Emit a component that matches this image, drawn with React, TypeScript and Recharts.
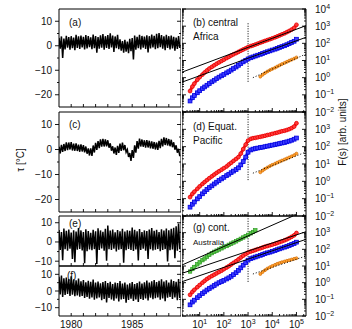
import React from "react";
import { ComposedChart, Line, Scatter, XAxis, YAxis } from "recharts";

const FONT = "'Liberation Sans', Arial, Helvetica, sans-serif";
const AX_LINE = { stroke: "#000", strokeWidth: 1 };
const PAD = 8; // room above / below each plot so edge labels are not clipped

// ---- left column: daily temperature records, read as upper / lower envelope ----
const YEARS = [
  1979.0, 1979.2, 1979.4, 1979.6, 1979.8, 1980.0, 1980.2, 1980.4, 1980.6, 1980.8,
  1981.0, 1981.2, 1981.4, 1981.6, 1981.8, 1982.0, 1982.2, 1982.4, 1982.6, 1982.8,
  1983.0, 1983.2, 1983.4, 1983.6, 1983.8, 1984.0, 1984.2, 1984.4, 1984.6, 1984.8,
  1985.0, 1985.2, 1985.4, 1985.6, 1985.8, 1986.0, 1986.2, 1986.4, 1986.6, 1986.8,
  1987.0, 1987.2, 1987.4, 1987.6, 1987.8, 1988.0, 1988.2, 1988.4, 1988.6, 1988.8,
];
const YEAR_DOMAIN = [1979, 1989];
const YEAR_TICKS = [1980, 1981, 1982, 1983, 1984, 1985, 1986, 1987, 1988];
const YEAR_LABELS = [1980, 1985];

const HI_A = [3.2, 3.8, 2.9, 4.1, 3.5, 3.9, 3.3, 4.5, 3.8, 4.2, 3.6, 4.4, 3.9, 3.4, 4.6, 4.0, 3.5, 4.3, 4.8, 3.9, 4.4, 5.1, 4.2, 3.8, 4.5, 2.6, 1.9, 2.4, 1.7, 2.8, 3.1, 4.2, 3.6, 4.5, 4.0, 3.7, 4.3, 3.9, 4.6, 4.1, 4.9, 5.2, 4.4, 3.8, 4.5, 3.9, 4.2, 3.6, 3.3, 3.9];
const LO_A = [-1.2, -5.0, -1.5, -0.8, -1.6, -1.0, -1.8, -0.9, -1.3, -0.7, -1.5, -1.1, -0.6, -1.4, -1.0, -2.8, -1.2, -0.8, -1.6, -0.9, -1.3, -0.7, -2.5, -1.0, -1.4, -2.0, -2.8, -2.4, -3.0, -2.2, -5.6, -1.6, -1.0, -1.5, -0.8, -1.3, -2.7, -1.1, -0.7, -1.4, -1.0, -0.6, -1.2, -1.8, -0.9, -1.5, -1.1, -2.0, -1.3, -0.9];

const HI_C = [1.1, 1.9, 2.2, 2.9, 2.8, 3.0, 2.3, 2.5, 1.9, 2.1, 1.7, 1.2, 0.4, 0.5, 1.6, 2.7, 3.4, 4.1, 4.3, 4.0, 3.7, 2.5, 1.3, 0.8, 1.5, 2.4, 2.8, 1.8, 0.0, -1.4, -0.2, 1.7, 3.4, 4.4, 4.0, 3.7, 3.8, 3.5, 3.3, 3.0, 2.8, 3.5, 4.3, 4.9, 4.6, 4.2, 3.9, 2.9, 1.7, 0.3];
const LO_C = [-1.6, -1.0, -0.6, -0.3, 0.0, -0.4, -0.5, -0.6, -0.9, -0.8, -1.1, -1.7, -2.4, -2.6, -1.2, -0.2, 0.5, 1.1, 1.2, 1.3, 0.7, -0.5, -1.6, -2.2, -1.4, -0.6, -0.3, -1.1, -3.0, -4.6, -3.4, -1.3, 0.3, 1.2, 1.1, 0.7, 0.8, 0.4, 0.3, 0.0, -0.2, 0.5, 1.2, 1.8, 1.6, 1.3, 0.9, -0.1, -1.3, -2.7];

const HI_E = [6.2, 5.1, 7.0, 5.8, 6.5, 4.9, 6.1, 5.4, 7.3, 6.0, 5.2, 6.6, 5.7, 4.8, 6.3, 5.5, 7.1, 6.0, 5.3, 6.8, 8.6, 5.9, 6.4, 5.0, 6.2, 5.6, 6.9, 5.4, 6.1, 5.8, 7.5, 6.3, 5.5, 6.7, 5.1, 6.0, 5.7, 6.4, 7.2, 5.8, 6.3, 5.2, 6.6, 5.9, 7.0, 6.1, 6.8, 7.4, 8.2, 9.6];
const LO_E = [-4.2, -9.5, -3.8, -4.6, -3.5, -8.8, -10.5, -4.0, -3.6, -4.4, -11.0, -4.8, -3.9, -4.3, -3.7, -11.5, -4.1, -3.4, -4.6, -9.8, -3.8, -4.2, -3.5, -4.9, -4.0, -3.7, -10.8, -4.3, -3.6, -4.1, -4.7, -3.9, -9.6, -4.2, -3.5, -4.5, -8.9, -3.8, -4.4, -4.0, -3.6, -4.8, -4.1, -3.7, -10.2, -4.3, -3.9, -8.5, -4.5, -3.8];

const HI_F = [8.5, 9.2, 7.6, 8.1, 7.2, 8.8, 7.0, 6.4, 7.5, 5.8, 6.6, 5.2, 6.1, 5.5, 6.8, 5.0, 5.7, 4.6, 5.3, 6.0, 4.8, 5.5, 4.2, 5.1, 4.7, 5.9, 4.4, 5.0, 3.9, 4.6, 5.3, 4.1, 4.8, 5.6, 4.5, 5.2, 6.3, 5.0, 5.8, 6.5, 5.4, 6.1, 7.0, 5.7, 6.4, 5.1, 6.8, 6.0, 5.5, 7.2];
const LO_F = [-2.0, -3.5, -2.4, -1.8, -2.9, -2.2, -3.1, -2.6, -3.4, -3.0, -4.1, -3.5, -4.6, -3.8, -5.2, -4.4, -3.9, -5.5, -4.7, -6.8, -4.2, -5.0, -5.8, -4.5, -6.2, -5.1, -4.8, -7.0, -5.4, -4.6, -5.9, -5.0, -6.5, -4.8, -5.3, -4.4, -5.6, -4.0, -4.9, -4.3, -3.8, -5.2, -4.5, -6.1, -4.0, -3.6, -4.7, -3.9, -5.5, -4.2];

// ---- right column: fluctuation functions F(s); values are log10 F ----
const S = [4, 5, 6, 8, 10, 13, 16, 20, 25, 32, 40, 50, 63, 80, 100, 130, 160, 200, 250, 320, 400, 500, 630, 800, 1000, 1300, 1600, 2000, 2500, 3200, 4000, 5000, 6300, 8000, 10000, 13000, 16000, 20000, 25000, 32000, 40000, 50000, 63000, 80000, 100000];
const S_GREEN = [4, 5, 6, 8, 10, 13, 16, 20, 25, 32, 40, 50, 63, 80, 100, 130, 160, 200, 250, 320, 400, 500, 630, 800, 1000, 1300, 1600, 2000];
const S_ORANGE = [3200, 4000, 5000, 6300, 8000, 10000, 13000, 16000, 20000, 25000, 32000, 40000, 50000, 63000, 80000, 100000];

const RED_B = [-0.78, -0.52, -0.35, -0.12, 0.03, 0.18, 0.30, 0.42, 0.53, 0.63, 0.72, 0.81, 0.89, 0.97, 1.05, 1.14, 1.21, 1.29, 1.36, 1.43, 1.50, 1.57, 1.64, 1.71, 1.78, 1.84, 1.88, 1.93, 1.98, 2.04, 2.09, 2.14, 2.19, 2.24, 2.29, 2.35, 2.40, 2.46, 2.52, 2.58, 2.65, 2.72, 2.80, 2.90, 3.08];
const BLUE_B = [-1.36, -1.17, -1.04, -0.88, -0.76, -0.64, -0.54, -0.44, -0.34, -0.24, -0.15, -0.06, 0.03, 0.11, 0.19, 0.28, 0.35, 0.44, 0.53, 0.62, 0.72, 0.82, 0.92, 1.01, 1.09, 1.16, 1.21, 1.26, 1.31, 1.36, 1.41, 1.46, 1.51, 1.56, 1.61, 1.66, 1.71, 1.76, 1.81, 1.86, 1.92, 1.98, 2.05, 2.12, 2.24];
const ORANGE_B = [0.06, 0.17, 0.27, 0.36, 0.44, 0.51, 0.58, 0.65, 0.72, 0.79, 0.86, 0.92, 0.99, 1.05, 1.11, 1.18];

const RED_D = [-0.91, -0.72, -0.60, -0.43, -0.29, -0.15, -0.04, 0.07, 0.18, 0.29, 0.39, 0.49, 0.58, 0.67, 0.76, 0.86, 0.97, 1.07, 1.18, 1.29, 1.40, 1.60, 1.86, 2.12, 2.35, 2.45, 2.49, 2.51, 2.54, 2.57, 2.60, 2.63, 2.67, 2.70, 2.74, 2.78, 2.81, 2.85, 2.89, 2.92, 2.96, 3.01, 3.07, 3.16, 3.35];
const BLUE_D = [-1.49, -1.32, -1.19, -1.01, -0.88, -0.72, -0.60, -0.47, -0.36, -0.26, -0.15, -0.05, 0.05, 0.14, 0.23, 0.33, 0.41, 0.50, 0.59, 0.68, 0.78, 0.95, 1.14, 1.40, 1.68, 1.81, 1.86, 1.89, 1.92, 1.95, 1.97, 2.00, 2.03, 2.06, 2.09, 2.12, 2.15, 2.18, 2.21, 2.24, 2.28, 2.32, 2.37, 2.43, 2.50];
const ORANGE_D = [0.52, 0.62, 0.72, 0.80, 0.88, 0.95, 1.02, 1.08, 1.14, 1.20, 1.26, 1.32, 1.38, 1.44, 1.51, 1.60];

const GREEN_G = [0.67, 0.82, 0.94, 1.10, 1.22, 1.35, 1.45, 1.56, 1.67, 1.77, 1.85, 1.92, 1.99, 2.06, 2.13, 2.20, 2.27, 2.34, 2.41, 2.48, 2.56, 2.63, 2.71, 2.79, 2.87, 2.96, 3.04, 3.14];
const RED_G = [-0.73, -0.55, -0.43, -0.27, -0.14, 0.00, 0.11, 0.22, 0.31, 0.40, 0.48, 0.56, 0.64, 0.72, 0.81, 0.91, 0.99, 1.09, 1.19, 1.29, 1.40, 1.51, 1.62, 1.72, 1.81, 1.87, 1.91, 1.96, 2.01, 2.06, 2.11, 2.16, 2.20, 2.24, 2.28, 2.33, 2.38, 2.43, 2.48, 2.54, 2.60, 2.67, 2.75, 2.84, 2.98];
const BLUE_G = [-1.33, -1.16, -1.05, -0.90, -0.78, -0.65, -0.55, -0.44, -0.35, -0.26, -0.17, -0.08, 0.00, 0.07, 0.14, 0.22, 0.29, 0.38, 0.48, 0.60, 0.74, 0.89, 1.05, 1.21, 1.35, 1.44, 1.49, 1.54, 1.59, 1.64, 1.69, 1.74, 1.79, 1.83, 1.88, 1.93, 1.98, 2.03, 2.08, 2.13, 2.18, 2.23, 2.29, 2.35, 2.43];
const ORANGE_G = [0.52, 0.64, 0.75, 0.85, 0.93, 1.00, 1.07, 1.13, 1.18, 1.23, 1.27, 1.31, 1.35, 1.39, 1.43, 1.47];

// straight-line fits (end points: s, log10 F)
const S_DOMAIN = [1.86, 248000];
const F_DOMAIN = [0.01, 10000];
const FIT_B = [{ s: [1.86, 248000], e: [0.32, 3.03] }, { s: [1.86, 248000], e: [-0.26, 2.35] }];
const FIT_G = [{ s: [1.86, 72400], e: [1.06, 4.0] }, { s: [1.86, 248000], e: [0.56, 3.06] }, { s: [1.86, 248000], e: [0.06, 2.6] }];
const DOT_FIT_B = { s: [1585, 248000], e: [0.0, 1.38] };
const DOT_FIT_D = { s: [1585, 248000], e: [0.47, 1.69] };
const DOT_FIT_G = { s: [1585, 248000], e: [0.52, 1.6] };
const VLINE_B = { s: [1000, 1000], e: [-0.24, 3.24] };
const VLINE_D = { s: [1000, 1000], e: [0.07, 4.0] };
const VLINE_G = { s: [1000, 1000], e: [0.05, 4.0] };

const S_TICKS = [2, 3, 4, 5, 6, 7, 8, 9, 10, 20, 30, 40, 50, 60, 70, 80, 90, 100, 200, 300, 400, 500, 600, 700, 800, 900, 1000, 2000, 3000, 4000, 5000, 6000, 7000, 8000, 9000, 10000, 20000, 30000, 40000, 50000, 60000, 70000, 80000, 90000, 100000, 200000];
const F_TICKS = [0.01, 0.1, 1, 10, 100, 1000]
  .flatMap((d) => [1, 2, 3, 4, 5, 6, 7, 8, 9].map((m) => +(d * m).toPrecision(3)))
  .concat([10000]);

type Pt = { s: number; F: number };
const toPts = (s: number[], e: number[]): Pt[] => s.map((v, i) => ({ s: v, F: Math.pow(10, e[i]) }));

function zigzag(hi: number[], lo: number[]) {
  const rows: { t: number; v: number }[] = [];
  YEARS.forEach((t, i) => {
    rows.push({ t, v: hi[i] });
    rows.push({ t: t + 0.1, v: lo[i] });
  });
  return rows;
}

const isPow10 = (v: number) => Math.abs(Math.log10(v) - Math.round(Math.log10(v))) < 1e-6;
const isTen = (v: number) => v % 10 === 0;
const always = () => true;

type Side = "left" | "right" | "top" | "bottom";
type LabelFn = (v: number, x: number, y: number) => React.ReactNode;

function tickFn(side: Side, isMajor: (v: number) => boolean, label?: LabelFn, outward = false, lens = [4, 2]) {
  return (p: any) => {
    const x = Number(p.x);
    const y = Number(p.y);
    const v = Number(p.payload?.value);
    const len = isMajor(v) ? lens[0] : lens[1];
    const d = outward ? -len : len;
    const x2 = side === "left" ? x + d : side === "right" ? x - d : x;
    const y2 = side === "top" ? y + d : side === "bottom" ? y - d : y;
    return (
      <g>
        <line x1={x} y1={y} x2={x2} y2={y2} stroke="#000" strokeWidth={0.9} />
        {label ? label(v, x, y) : null}
      </g>
    );
  };
}

const txt = { fontFamily: FONT, fontSize: 10, fill: "#111" };

const tempLabel: LabelFn = (v, x, y) =>
  v % 10 === 0 ? (
    <text x={x - 7} y={y + 3.5} textAnchor="end" {...txt}>
      {v < 0 ? `\u2212${-v}` : String(v)}
    </text>
  ) : null;

const yearLabel: LabelFn = (v, x, y) =>
  YEAR_LABELS.includes(v) ? (
    <text x={x} y={y + 12} textAnchor="middle" {...txt}>
      {String(v)}
    </text>
  ) : null;

const expText = (n: number) => (n < 0 ? `\u2212${-n}` : String(n));

const powLabelRight = (maxExp: number): LabelFn => (v, x, y) => {
  if (!isPow10(v)) return null;
  const n = Math.round(Math.log10(v));
  if (n > maxExp) return null;
  return (
    <text x={x + 9} y={y + 3.5} {...txt}>
      10<tspan dy={-4} fontSize={7}>{expText(n)}</tspan>
    </text>
  );
};

const powLabelBottom: LabelFn = (v, x, y) => {
  if (!isPow10(v)) return null;
  const n = Math.round(Math.log10(v));
  return (
    <text x={x} y={y + 12} textAnchor="middle" {...txt}>
      10<tspan dy={-4} fontSize={7}>{expText(n)}</tspan>
    </text>
  );
};

function SeriesPanel({ top, h, domain, yTicks, hi, lo, showYears }: {
  top: number; h: number; domain: number[]; yTicks: number[]; hi: number[]; lo: number[]; showYears?: boolean;
}) {
  const rows = zigzag(hi, lo);
  const bottom = showYears ? 0 : PAD;
  return (
    <div style={{ position: "absolute", left: 19, top: top - PAD }}>
      <ComposedChart width={162} height={h + PAD + (showYears ? 13 : PAD)} data={rows}
        margin={{ top: PAD, right: 0, bottom, left: 0 }}>
        <XAxis xAxisId="b" dataKey="t" type="number" domain={YEAR_DOMAIN} allowDataOverflow ticks={YEAR_TICKS} interval={0}
          tickSize={0} tickMargin={0} tickLine={false} axisLine={AX_LINE} orientation="bottom" mirror={!showYears} height={13}
          tick={tickFn("bottom", always, showYears ? yearLabel : undefined, false, [3, 3])} />
        <XAxis xAxisId="t" type="number" domain={YEAR_DOMAIN} allowDataOverflow ticks={YEAR_TICKS} interval={0}
          tickSize={0} tickMargin={0} tickLine={false} axisLine={AX_LINE} orientation="top" mirror height={10}
          tick={tickFn("top", always, undefined, false, [3, 3])} />
        <YAxis yAxisId="l" type="number" domain={domain} allowDataOverflow ticks={yTicks} interval={0}
          tickSize={0} tickMargin={0} tickLine={false} axisLine={AX_LINE} width={40}
          tick={tickFn("left", isTen, tempLabel, true, [4, 2])} />
        <YAxis yAxisId="r" type="number" domain={domain} allowDataOverflow ticks={yTicks} interval={0}
          tickSize={0} tickMargin={0} tickLine={false} axisLine={AX_LINE} orientation="right" mirror width={10}
          tick={tickFn("right", isTen, undefined, false, [4, 2])} />
        <Line xAxisId="b" yAxisId="l" dataKey="v" type="linear" stroke="#000" strokeWidth={1.5} dot={false}
          activeDot={false} isAnimationActive={false} />
      </ComposedChart>
    </div>
  );
}

const redDot = (p: any) => <circle cx={p.cx} cy={p.cy} r={1.9} fill="#ff3a3a" stroke="#e80000" strokeWidth={0.8} />;
const blueDot = (p: any) => <rect x={p.cx - 1.9} y={p.cy - 1.9} width={3.8} height={3.8} fill="#3d3dff" stroke="#0000e0" strokeWidth={0.8} />;
const greenDot = (p: any) => <rect x={p.cx - 1.7} y={p.cy - 1.7} width={3.4} height={3.4} fill="#5cc84c" stroke="#2e9a24" strokeWidth={0.7} />;
const orangeDot = (p: any) => <circle cx={p.cx} cy={p.cy} r={1.5} fill="#ffa030" stroke="#d06a00" strokeWidth={0.6} />;
const noDot = () => <g />;

type Curve = { s: number[]; e: number[] };

function DfaPanel({ top, h, red, blue, orange, green, fits, dotFit, vline, showX, maxExp }: {
  top: number; h: number; red: number[]; blue: number[]; orange: number[]; green?: number[];
  fits: Curve[]; dotFit: Curve; vline: Curve; showX?: boolean; maxExp: number;
}) {
  const ids = { xAxisId: "b", yAxisId: "l" };
  return (
    <div style={{ position: "absolute", left: 182, top: top - PAD }}>
      <ComposedChart width={164} height={h + PAD + (showX ? 13 : PAD)}
        margin={{ top: PAD, right: 0, bottom: showX ? 0 : PAD, left: 0 }}>
        <XAxis xAxisId="b" dataKey="s" type="number" scale="log" domain={S_DOMAIN} allowDataOverflow ticks={S_TICKS} interval={0}
          tickSize={0} tickMargin={0} tickLine={false} axisLine={AX_LINE} orientation="bottom" mirror={!showX} height={13}
          tick={tickFn("bottom", isPow10, showX ? powLabelBottom : undefined)} />
        <XAxis xAxisId="t" type="number" scale="log" domain={S_DOMAIN} allowDataOverflow ticks={S_TICKS} interval={0}
          tickSize={0} tickMargin={0} tickLine={false} axisLine={AX_LINE} orientation="top" mirror height={10}
          tick={tickFn("top", isPow10)} />
        <YAxis yAxisId="l" dataKey="F" type="number" scale="log" domain={F_DOMAIN} allowDataOverflow ticks={F_TICKS} interval={0}
          tickSize={0} tickMargin={0} tickLine={false} axisLine={AX_LINE} orientation="left" mirror width={10}
          tick={tickFn("left", isPow10)} />
        <YAxis yAxisId="r" type="number" scale="log" domain={F_DOMAIN} allowDataOverflow ticks={F_TICKS} interval={0}
          tickSize={0} tickMargin={0} tickLine={false} axisLine={AX_LINE} orientation="right" width={40}
          tick={tickFn("right", isPow10, powLabelRight(maxExp))} />
        <Scatter {...ids} data={toPts(vline.s, vline.e)} shape={noDot}
          line={{ stroke: "#000", strokeWidth: 1, strokeDasharray: "1 1.5" }} isAnimationActive={false} />
        {green ? (
          <Scatter {...ids} data={toPts(S_GREEN, green)} shape={greenDot}
            line={{ stroke: "#44b434", strokeWidth: 2.6 }} isAnimationActive={false} />
        ) : null}
        <Scatter {...ids} data={toPts(S, red)} shape={redDot}
          line={{ stroke: "#f21c1c", strokeWidth: 3 }} isAnimationActive={false} />
        <Scatter {...ids} data={toPts(S, blue)} shape={blueDot}
          line={{ stroke: "#1c1cf2", strokeWidth: 3 }} isAnimationActive={false} />
        <Scatter {...ids} data={toPts(S_ORANGE, orange)} shape={orangeDot}
          line={{ stroke: "#f28a18", strokeWidth: 2 }} isAnimationActive={false} />
        {fits.map((f, i) => (
          <Scatter key={i} {...ids} data={toPts(f.s, f.e)} shape={noDot}
            line={{ stroke: "#000", strokeWidth: 1 }} isAnimationActive={false} />
        ))}
        <Scatter {...ids} data={toPts(dotFit.s, dotFit.e)} shape={noDot}
          line={{ stroke: "#000", strokeWidth: 1, strokeDasharray: "1 2" }} isAnimationActive={false} />
      </ComposedChart>
    </div>
  );
}

export default function App() {
  return (
    <div style={{ position: "absolute", left: 0, top: 0, width: 352, height: 329, background: "#fff", overflow: "hidden" }}>
      <SeriesPanel top={9} h={98} domain={[-25, 15]} yTicks={[-20, -15, -10, -5, 0, 5, 10]} hi={HI_A} lo={LO_A} />
      <SeriesPanel top={112} h={100} domain={[-25, 15]} yTicks={[-20, -15, -10, -5, 0, 5, 10]} hi={HI_C} lo={LO_C} />
      <SeriesPanel top={216} h={50} domain={[-12.5, 13.5]} yTicks={[-10, -5, 0, 5, 10]} hi={HI_E} lo={LO_E} />
      <SeriesPanel top={266} h={50} domain={[-15, 15]} yTicks={[-10, -5, 0, 5, 10]} hi={HI_F} lo={LO_F} showYears />

      <DfaPanel top={9} h={103} red={RED_B} blue={BLUE_B} orange={ORANGE_B} fits={FIT_B} dotFit={DOT_FIT_B} vline={VLINE_B} maxExp={4} />
      <DfaPanel top={112} h={104} red={RED_D} blue={BLUE_D} orange={ORANGE_D} fits={[]} dotFit={DOT_FIT_D} vline={VLINE_D} maxExp={3} />
      <DfaPanel top={216} h={100} red={RED_G} blue={BLUE_G} orange={ORANGE_G} green={GREEN_G} fits={FIT_G} dotFit={DOT_FIT_G} vline={VLINE_G} maxExp={3} showX />

      <svg width={352} height={329} style={{ position: "absolute", left: 0, top: 0, pointerEvents: "none" }}>
        <g fontFamily={FONT} fontSize={10} fill="#111">
          <text x={69} y={26}>(a)</text>
          <text x={69} y={128}>(c)</text>
          <text x={69} y={227}>(e)</text>
          <text x={67} y={279}>(f)</text>
          <text x={193} y={26}>(b) central</text>
          <text x={193} y={40}>Africa</text>
          <text x={193} y={130}>(d) Equat.</text>
          <text x={193} y={144}>Pacific</text>
          <text x={193} y={231}>(g) cont.</text>
          <text x={193} y={245} fontSize={8}>Australia</text>
          <text x={24} y={160} textAnchor="middle" transform="rotate(-90 24 160)">{"\u03c4  [\u00b0C]"}</text>
          <text x={346} y={132} textAnchor="middle" transform="rotate(-90 346 132)">F(s)  [arb. units]</text>
        </g>
      </svg>
    </div>
  );
}
